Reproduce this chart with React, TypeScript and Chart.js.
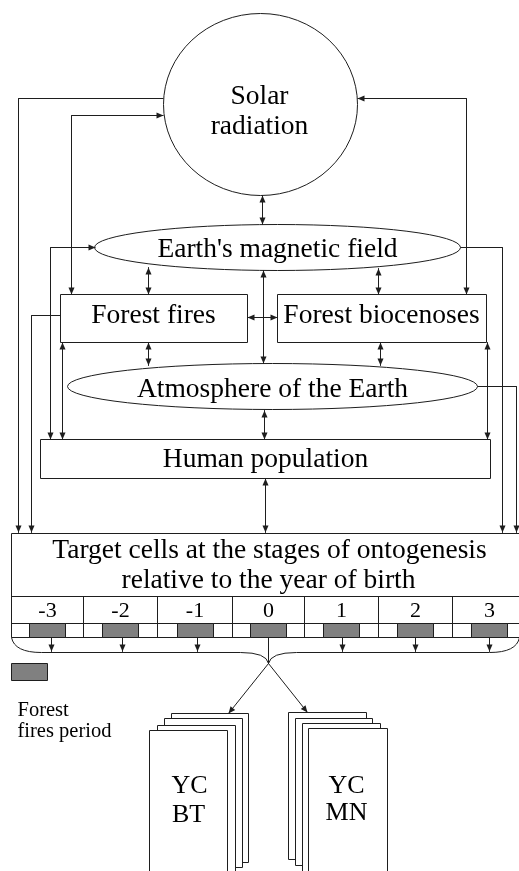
import React, { useEffect, useRef } from 'react';
import { Chart, registerables } from 'chart.js';

Chart.register(...registerables);

const W = 519;
const H = 871;
const LINE = '#1e1e1e';
const FONT = '"Liberation Serif", "Times New Roman", serif';

// Ellipse nodes (diagram units)
const ellipseNodes = [
  { cx: 260, cy: 104, rx: 97, ry: 91 },
  { cx: 277, cy: 247, rx: 183, ry: 23 },
  { cx: 272, cy: 386, rx: 205, ry: 23 },
];

// Rectangular nodes [x0, y0, x1, y1]
const boxNodes = [
  [60, 294, 247, 342],
  [277, 294, 486, 342],
  [40, 439, 490, 478],
];

// Node texts
const nodeTexts = [
  { text: 'Solar', x: 259, y: 103, size: 27.5, align: 'center' },
  { text: 'radiation', x: 259, y: 133, size: 27.5, align: 'center' },
  { text: "Earth's magnetic field", x: 277, y: 256, size: 27.5, align: 'center' },
  { text: 'Forest fires', x: 153, y: 322, size: 27.5, align: 'center' },
  { text: 'Forest biocenoses', x: 381, y: 322, size: 27.5, align: 'center' },
  { text: 'Atmosphere of the Earth', x: 272, y: 396, size: 27.5, align: 'center' },
  { text: 'Human population', x: 265, y: 466, size: 27.5, align: 'center' },
  { text: 'Target cells at the stages of ontogenesis', x: 269, y: 557, size: 27.5, align: 'center' },
  { text: 'relative to the year of birth', x: 268, y: 587, size: 27.5, align: 'center' },
  { text: 'YC', x: 189, y: 792, size: 26, align: 'center' },
  { text: 'BT', x: 188, y: 821, size: 26, align: 'center' },
  { text: 'YC', x: 346, y: 792, size: 26, align: 'center' },
  { text: 'MN', x: 346, y: 819, size: 26, align: 'center' },
  { text: 'Forest', x: 17, y: 715, size: 20.5, align: 'left' },
  { text: 'fires period', x: 17, y: 736, size: 20.5, align: 'left' },
];

// Connectors: polyline points, arrowheads at start / end
const links = [
  { pts: [[163, 98], [18, 98], [18, 532]], start: false, end: true },
  { pts: [[163, 115], [71, 115], [71, 294]], start: true, end: true },
  { pts: [[357, 98], [466, 98], [466, 294]], start: true, end: true },
  { pts: [[262, 195], [262, 224]], start: true, end: true },
  { pts: [[95, 247], [50, 247], [50, 439]], start: true, end: true },
  { pts: [[460, 247], [502, 247], [502, 532]], start: false, end: true },
  { pts: [[148, 267], [148, 294]], start: true, end: true },
  { pts: [[378, 268], [378, 294]], start: true, end: true },
  { pts: [[263, 270], [263, 363]], start: true, end: true },
  { pts: [[247, 317], [277, 317]], start: true, end: true },
  { pts: [[148, 342], [148, 365]], start: true, end: true },
  { pts: [[380, 342], [380, 365]], start: true, end: true },
  { pts: [[62, 342], [62, 439]], start: true, end: true },
  { pts: [[487, 342], [487, 439]], start: true, end: true },
  { pts: [[60, 315], [31, 315], [31, 532]], start: false, end: true },
  { pts: [[477, 386], [516, 386], [516, 532]], start: false, end: true },
  { pts: [[264, 410], [264, 439]], start: true, end: true },
  { pts: [[265, 478], [265, 532]], start: true, end: true },
  { pts: [[51, 637], [51, 651]], start: false, end: true },
  { pts: [[122, 637], [122, 651]], start: false, end: true },
  { pts: [[197, 637], [197, 651]], start: false, end: true },
  { pts: [[268, 637], [268, 663]], start: false, end: false },
  { pts: [[342, 637], [342, 651]], start: false, end: true },
  { pts: [[415, 637], [415, 651]], start: false, end: true },
  { pts: [[489, 637], [489, 651]], start: false, end: true },
  { pts: [[268, 663], [228, 713]], start: false, end: true },
  { pts: [[268, 663], [307, 712]], start: false, end: true },
];

// Target cells table
const targetBox = [11, 533, 530, 637];
const tableRows = [596, 623];
const colLabels = ['-3', '-2', '-1', '0', '1', '2', '3'];
const colEdges = [11, 83, 157, 232, 304, 378, 452, 526];
const barHalfWidth = 18;
const legendRect = [11, 663, 47, 680];

// Brace under the table: [leftX, rightX, topY, lineY, tipX, tipY]
const brace = [11, 519, 637, 652, 268, 663];

// Card stacks (back to front) [x0, y0, x1, y1]
const cardsBT = [
  [171, 713, 248, 862],
  [164, 718, 242, 867],
  [157, 725, 235, 875],
  [149, 730, 227, 880],
];
const cardsMN = [
  [288, 712, 366, 859],
  [295, 718, 372, 865],
  [302, 723, 380, 871],
  [308, 728, 387, 880],
];

const diagramPlugin = {
  id: 'diagram',
  beforeDatasetsDraw(chart: any) {
    const { ctx } = chart;
    const xs = chart.scales.x;
    const ys = chart.scales.y;
    const px = (v: number) => xs.getPixelForValue(v);
    const py = (v: number) => ys.getPixelForValue(v);
    const sx = px(1) - px(0);
    const sy = py(1) - py(0);
    ctx.save();
    ctx.fillStyle = '#ffffff';
    ctx.fillRect(0, 0, chart.width, chart.height);
    ctx.lineWidth = 1;
    ctx.strokeStyle = LINE;

    const rect = (r: number[], fill: string) => {
      ctx.beginPath();
      ctx.rect(px(r[0]), py(r[1]), (r[2] - r[0]) * sx, (r[3] - r[1]) * sy);
      ctx.fillStyle = fill;
      ctx.fill();
      ctx.stroke();
    };

    for (const e of ellipseNodes) {
      ctx.beginPath();
      ctx.ellipse(px(e.cx), py(e.cy), e.rx * sx, e.ry * sy, 0, 0, Math.PI * 2);
      ctx.fillStyle = '#ffffff';
      ctx.fill();
      ctx.stroke();
    }
    for (const b of boxNodes) rect(b, '#ffffff');

    // table
    rect(targetBox, '#ffffff');
    for (const ry of tableRows) {
      ctx.beginPath();
      ctx.moveTo(px(targetBox[0]), py(ry));
      ctx.lineTo(px(targetBox[2]), py(ry));
      ctx.stroke();
    }
    for (let i = 1; i < colEdges.length - 1; i++) {
      ctx.beginPath();
      ctx.moveTo(px(colEdges[i]), py(tableRows[0]));
      ctx.lineTo(px(colEdges[i]), py(targetBox[3]));
      ctx.stroke();
    }
    for (let i = 0; i < colLabels.length; i++) {
      const c = Math.round((colEdges[i] + colEdges[i + 1]) / 2);
      rect([c - barHalfWidth, tableRows[1], c + barHalfWidth, targetBox[3]], '#808080');
    }
    rect(legendRect, '#808080');

    // brace
    const [bl, br, bt, bly, tx, ty] = brace;
    ctx.beginPath();
    ctx.moveTo(px(bl), py(bt));
    ctx.quadraticCurveTo(px(bl + 3), py(bly), px(bl + 30), py(bly));
    ctx.lineTo(px(tx - 28), py(bly));
    ctx.quadraticCurveTo(px(tx - 2), py(bly), px(tx), py(ty));
    ctx.quadraticCurveTo(px(tx + 2), py(bly), px(tx + 28), py(bly));
    ctx.lineTo(px(br - 30), py(bly));
    ctx.quadraticCurveTo(px(br - 3), py(bly), px(br), py(bt));
    ctx.stroke();

    // cards
    for (const c of cardsBT) rect(c, '#ffffff');
    for (const c of cardsMN) rect(c, '#ffffff');
    ctx.restore();
  },
  afterDatasetsDraw(chart: any) {
    const { ctx } = chart;
    const xs = chart.scales.x;
    const ys = chart.scales.y;
    const px = (v: number) => xs.getPixelForValue(v);
    const py = (v: number) => ys.getPixelForValue(v);
    ctx.save();
    ctx.fillStyle = LINE;
    const head = (from: number[], to: number[]) => {
      const x1 = px(from[0]), y1 = py(from[1]);
      const x2 = px(to[0]), y2 = py(to[1]);
      const a = Math.atan2(y2 - y1, x2 - x1);
      const L = 7, hw = 3;
      ctx.beginPath();
      ctx.moveTo(x2, y2);
      ctx.lineTo(x2 - L * Math.cos(a) + hw * Math.sin(a), y2 - L * Math.sin(a) - hw * Math.cos(a));
      ctx.lineTo(x2 - L * Math.cos(a) - hw * Math.sin(a), y2 - L * Math.sin(a) + hw * Math.cos(a));
      ctx.closePath();
      ctx.fill();
    };
    for (const l of links) {
      const n = l.pts.length;
      if (l.start) head(l.pts[1], l.pts[0]);
      if (l.end) head(l.pts[n - 2], l.pts[n - 1]);
    }

    ctx.fillStyle = '#000000';
    ctx.textBaseline = 'alphabetic';
    for (const t of nodeTexts) {
      ctx.font = `${t.size}px ${FONT}`;
      ctx.textAlign = t.align;
      ctx.fillText(t.text, px(t.x), py(t.y));
    }
    ctx.font = `22px ${FONT}`;
    ctx.textAlign = 'center';
    for (let i = 0; i < colLabels.length; i++) {
      const c = (colEdges[i] + colEdges[i + 1]) / 2;
      ctx.fillText(colLabels[i], px(c), py(616));
    }
    ctx.restore();
  },
};

export default function App() {
  const ref = useRef<HTMLCanvasElement>(null);
  useEffect(() => {
    const canvas = ref.current;
    if (!canvas) return;
    const chart = new Chart(canvas, {
      type: 'scatter',
      data: {
        datasets: links.map((l) => ({
          data: l.pts.map(([x, y]) => ({ x, y })),
          showLine: true,
          borderColor: LINE,
          borderWidth: 1,
          pointRadius: 0,
          pointHoverRadius: 0,
          fill: false,
          tension: 0,
        })),
      },
      options: {
        responsive: false,
        animation: false,
        devicePixelRatio: 1,
        events: [],
        layout: { padding: 0 },
        scales: {
          x: { type: 'linear', min: -0.5, max: W - 0.5, display: false },
          y: { type: 'linear', min: -0.5, max: H - 0.5, reverse: true, display: false },
        },
        plugins: { legend: { display: false }, tooltip: { enabled: false } },
      } as any,
      plugins: [diagramPlugin as any],
    });
    return () => chart.destroy();
  }, []);
  return (
    <div style={{ position: 'fixed', left: 0, top: 0, width: W, height: H, background: '#fff' }}>
      <canvas ref={ref} width={W} height={H} style={{ display: 'block', width: W, height: H }} />
    </div>
  );
}
